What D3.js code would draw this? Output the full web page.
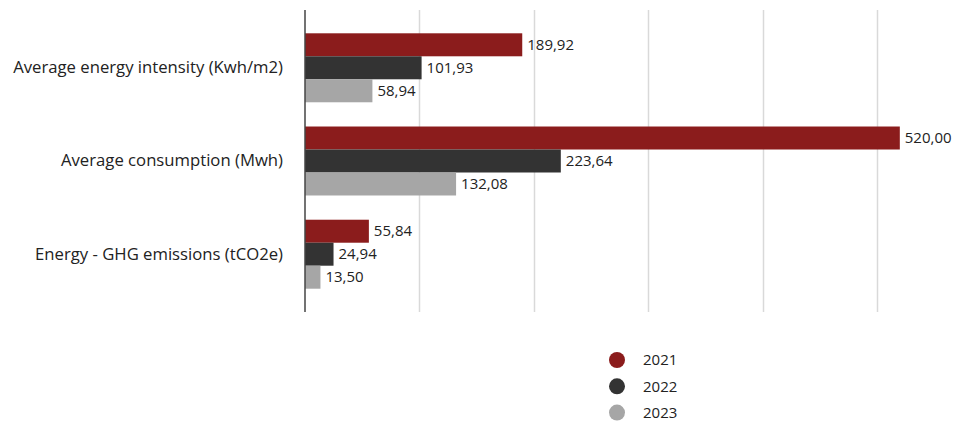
<!DOCTYPE html>
<html>
<head>
<meta charset="utf-8">
<script src="https://cdn.jsdelivr.net/npm/d3@7"></script>
<style>
  body { margin: 0; background: #fff; }
  svg { display: block; font-family: "Open Sans", sans-serif; }
</style>
</head>
<body>
<svg id="chart" width="979" height="423"></svg>
<script>
// data
var categories = ["Average energy intensity (Kwh/m2)", "Average consumption (Mwh)", "Energy - GHG emissions (tCO2e)"];
var years = ["2021", "2022", "2023"];
var values2021 = [189.92, 520.00, 55.84];
var values2022 = [101.93, 223.64, 24.94];
var values2023 = [58.94, 132.08, 13.50];
var gridTicks = [100, 200, 300, 400, 500];
var colors = ["#8b1c1c", "#333333", "#a6a6a6"];

var series = [values2021, values2022, values2023];

var svg = d3.select("#chart");

var plotTop = 10, plotBottom = 312, plotLeft = 305, plotRight = 957;

var x = d3.scaleLinear().domain([0, 570]).range([plotLeft, plotRight]);

var y0 = d3.scaleBand()
    .domain(categories)
    .range([plotTop, plotBottom])
    .paddingInner(0.26)
    .paddingOuter(0.25);

var y1 = d3.scaleBand()
    .domain(years)
    .range([0, y0.bandwidth()]);

var fmt = d3.formatLocale({decimal: ",", thousands: ".", grouping: [3], currency: ["", "€"]}).format(".2f");

// gridlines
svg.append("g")
    .selectAll("line")
    .data(gridTicks)
    .enter().append("line")
    .attr("x1", function(d) { return Math.round(x(d)) + 0.5; })
    .attr("x2", function(d) { return Math.round(x(d)) + 0.5; })
    .attr("y1", plotTop)
    .attr("y2", plotBottom)
    .attr("stroke", "#d9d9d9")
    .attr("stroke-width", 1.5);

// category labels
var yAxis = d3.axisLeft(y0).tickSize(0).tickPadding(22);
var yAxisG = svg.append("g")
    .attr("transform", "translate(" + plotLeft + ",0)")
    .call(yAxis);
yAxisG.select(".domain").remove();
yAxisG.selectAll("text")
    .attr("font-size", "16.7px")
    .attr("font-family", "\"Open Sans\", sans-serif")
    .attr("fill", "#222");

// bars
var groups = svg.append("g")
    .selectAll("g")
    .data(categories)
    .enter().append("g")
    .attr("transform", function(d) { return "translate(0," + y0(d) + ")"; });

groups.selectAll("rect")
    .data(function(d, i) { return years.map(function(yr, j) { return {year: yr, value: series[j][i], color: colors[j]}; }); })
    .enter().append("rect")
    .attr("x", x(0))
    .attr("y", function(d) { return y1(d.year); })
    .attr("width", function(d) { return x(d.value) - x(0); })
    .attr("height", y1.bandwidth())
    .attr("fill", function(d) { return d.color; });

groups.selectAll("text")
    .data(function(d, i) { return years.map(function(yr, j) { return {year: yr, value: series[j][i]}; }); })
    .enter().append("text")
    .attr("x", function(d) { return x(d.value) + 5; })
    .attr("y", function(d) { return y1(d.year) + y1.bandwidth() / 2; })
    .attr("dy", "0.35em")
    .attr("font-size", "15px")
    .attr("fill", "#222")
    .text(function(d) { return fmt(d.value); });

// vertical axis line
svg.append("line")
    .attr("x1", plotLeft).attr("x2", plotLeft)
    .attr("y1", plotTop).attr("y2", plotBottom)
    .attr("stroke", "#444")
    .attr("stroke-width", 1.5);

// legend
var legend = svg.append("g")
    .selectAll("g")
    .data(years)
    .enter().append("g")
    .attr("transform", function(d, i) { return "translate(617," + (360 + i * 26.3) + ")"; });

legend.append("circle")
    .attr("r", 8)
    .attr("fill", function(d, i) { return colors[i]; });

legend.append("text")
    .attr("x", 26)
    .attr("dy", "0.35em")
    .attr("font-size", "15px")
    .attr("fill", "#222")
    .text(function(d) { return d; });
</script>
</body>
</html>
